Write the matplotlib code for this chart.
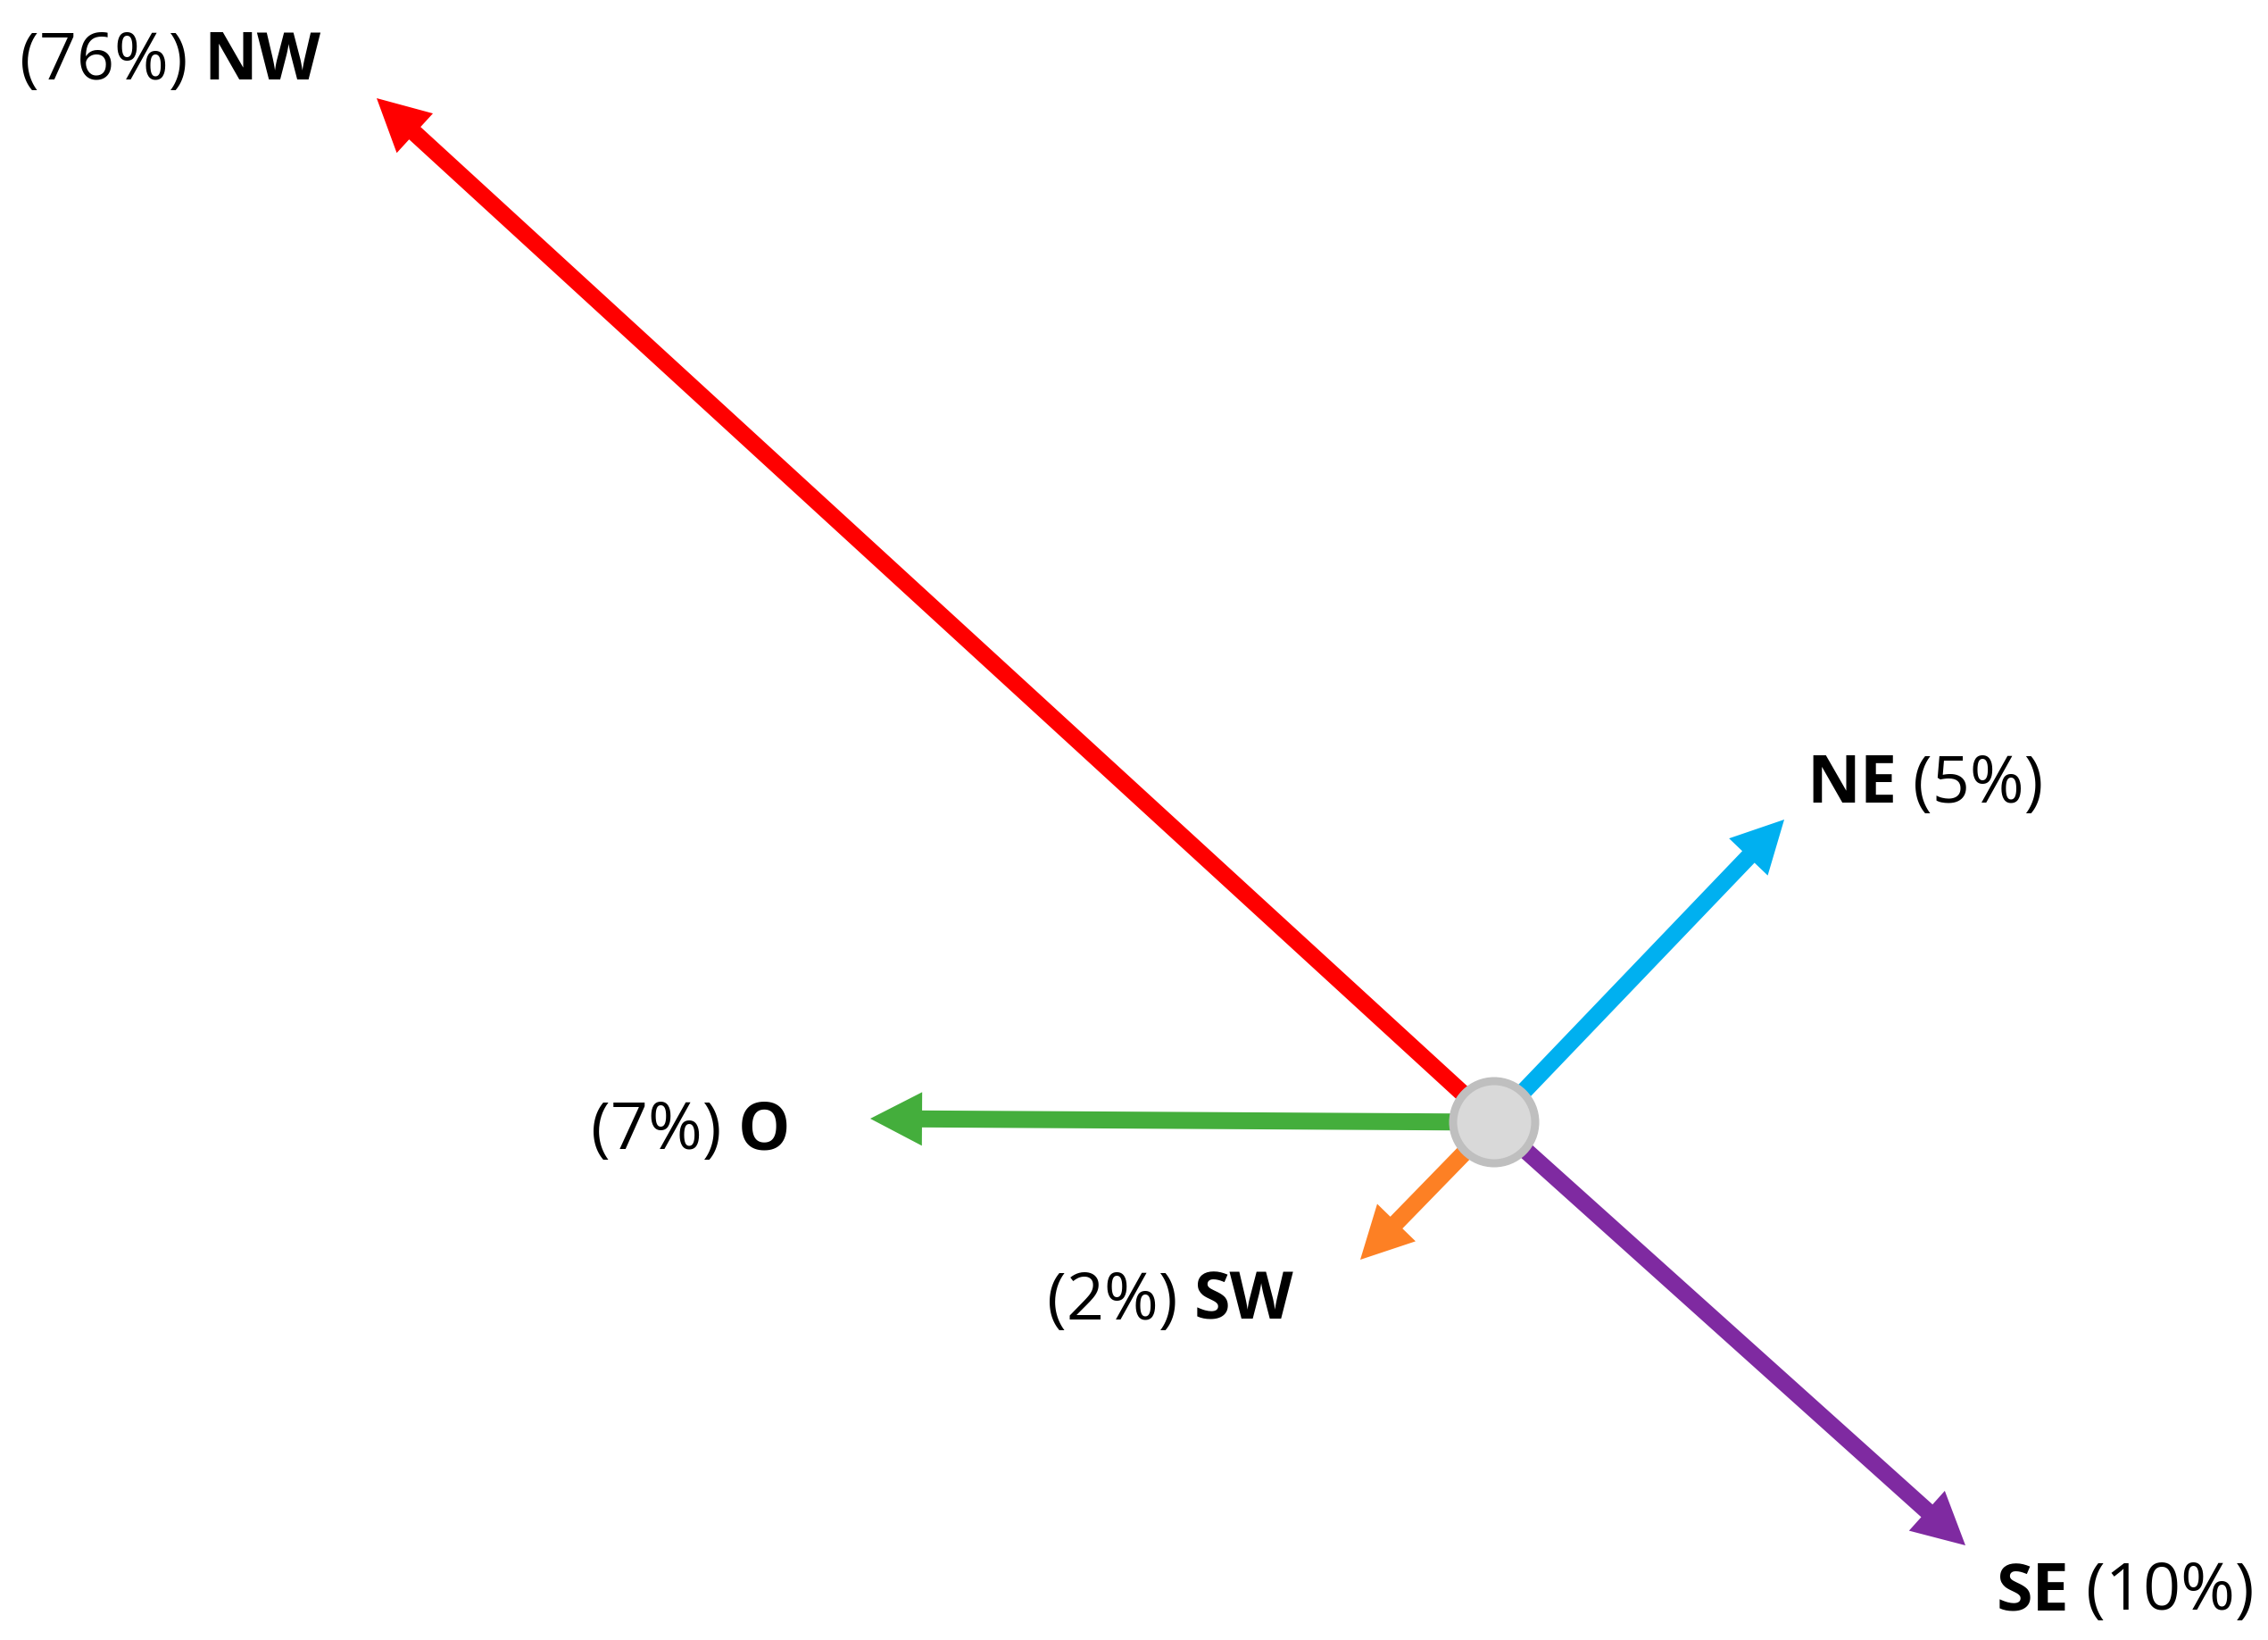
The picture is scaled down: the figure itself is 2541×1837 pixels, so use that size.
import matplotlib.pyplot as plt
from matplotlib.patches import Circle

plt.rcParams['font.family'] = ['Open Sans', 'DejaVu Sans']

# Wind directions, share of observations, arrow end (dx, dy) relative to the centre
directions = ['NW', 'NE', 'O', 'SW', 'SE']
shares = ['76%', '5%', '7%', '2%', '10%']
dx = [-1252, 325, -699, -150, 528]
dy = [1147, 339, 4, -154, -474]
colors = ['#FF0000', '#00B0F0', '#44AE3C', '#FD8024', '#7F2AA1']

# label anchor (left edge, baseline) relative to centre, and label order
label_x = [-1652, 350, -1012, -501, 563]
label_y = [1168, 358, -30, -221, -546]
dir_first = [False, True, False, False, True]

fig = plt.figure(figsize=(25.41, 18.37), dpi=100)
ax = fig.add_axes([0, 0, 1, 1])
ax.set_xlim(-1674, 867)
ax.set_ylim(-580, 1257)
ax.set_aspect('equal')
ax.axis('off')

for i in range(len(directions)):
    ax.arrow(0, 0, dx[i], dy[i], width=19, head_width=60, head_length=58,
             length_includes_head=True, color=colors[i], lw=0, zorder=2)

ax.add_patch(Circle((0, 0), 46, facecolor='#D9D9D9', edgecolor='#BFBFBF',
                    lw=6.5, zorder=3))

fs = 53
for i in range(len(directions)):
    pct = '(' + shares[i] + ')'
    if dir_first[i]:
        first, second = directions[i], pct
        w1, w2 = 'bold', 'normal'
    else:
        first, second = pct, directions[i]
        w1, w2 = 'normal', 'bold'
    t1 = ax.text(label_x[i], label_y[i], first, fontsize=fs, fontweight=w1,
                 ha='left', va='baseline', color='black')
    ax.annotate(second, xy=(1, label_y[i]), xycoords=(t1, 'data'),
                xytext=(13, 0), textcoords='offset points',
                fontsize=fs, fontweight=w2, ha='left', va='baseline',
                color='black')

fig.savefig('out.png', dpi=100, facecolor='white')
